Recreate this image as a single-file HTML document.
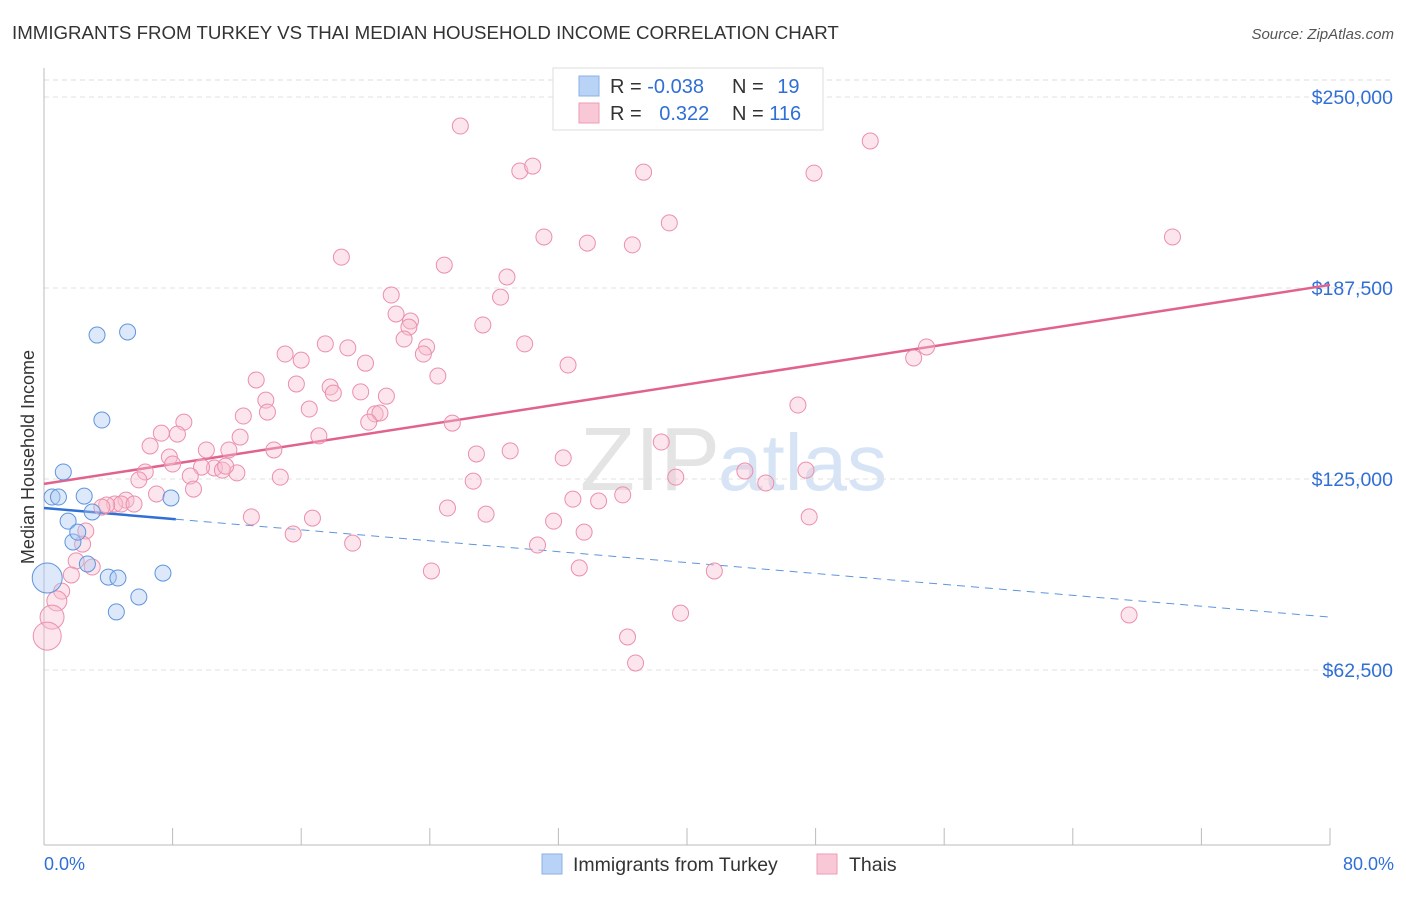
<!DOCTYPE html>
<html><head><meta charset="utf-8"><style>
body{margin:0;background:#fff;font-family:"Liberation Sans",sans-serif;}
svg text{font-family:"Liberation Sans",sans-serif;}
</style></head><body>
<svg id="chart" width="1406" height="892" xmlns="http://www.w3.org/2000/svg">
<text x="12" y="39" font-size="18.7" fill="#333">IMMIGRANTS FROM TURKEY VS THAI MEDIAN HOUSEHOLD INCOME CORRELATION CHART</text>
<text x="1394" y="39" font-size="15" fill="#555" font-style="italic" text-anchor="end">Source: ZipAtlas.com</text>
<text x="720" y="490" font-size="90" font-family="Liberation Serif" fill="#e4e4e4" text-anchor="end">ZIP</text>
<text x="718" y="490" font-size="80" fill="#d6e4f5">atlas</text>
<g id="grid"></g><g id="axes"></g><g id="lines"></g><g id="pts"></g>
<text transform="translate(34,457) rotate(-90)" font-size="18" fill="#333" text-anchor="middle">Median Household Income</text>
<g>
<rect x="553" y="68" width="270" height="62" fill="#fff" stroke="#ddd"/>
<rect x="579" y="76" width="20" height="20" fill="#b8d3f5" stroke="#8ab2e6"/>
<rect x="579" y="103" width="20" height="20" fill="#f8c8d6" stroke="#ee9db5"/>
<text x="610" y="93" font-size="20" fill="#333">R = <tspan fill="#2f6fd6">-0.038</tspan></text>
<text x="732" y="93" font-size="20" fill="#333">N = <tspan fill="#2f6fd6" dx="8">19</tspan></text>
<text x="610" y="120" font-size="20" fill="#333">R = <tspan fill="#2f6fd6" dx="12">0.322</tspan></text>
<text x="732" y="120" font-size="20" fill="#333">N = <tspan fill="#2f6fd6">116</tspan></text>
</g>
<g>
<rect x="542" y="854" width="20" height="20" fill="#b8d3f5" stroke="#8ab2e6"/>
<text x="573" y="871" font-size="19.5" fill="#333">Immigrants from Turkey</text>
<rect x="817" y="854" width="20" height="20" fill="#f8c8d6" stroke="#ee9db5"/>
<text x="849" y="871" font-size="19.5" fill="#333">Thais</text>
</g>
<text x="44" y="870" font-size="18" fill="#2f6fd6">0.0%</text>
<text x="1394" y="870" font-size="18" fill="#2f6fd6" text-anchor="end">80.0%</text>
</svg>
<script>
const yTicks=[62500,125000,187500,250000];
const yTickLabels=["$62,500","$125,000","$187,500","$250,000"];
const blueX=[0.2,0.5,0.9,1.2,1.5,1.8,2.1,2.5,2.7,3.0,3.3,3.6,4.0,4.6,4.5,5.2,5.9,7.4,7.9];
const blueY=[92600,119100,119100,127300,111200,104400,107600,119400,97200,114200,172100,144300,92900,92600,81500,173100,86400,94200,118800];
const pinkX=[25.9,51.4,29.6,30.4,37.3,47.9,38.9,31.1,33.8,36.6,70.2,18.5,24.9,28.8,28.4,21.6,21.9,22.8,22.7,27.3,22.4,23.8,23.6,17.5,18.9,29.9,15.0,16.0,20.0,32.6,54.1,54.9,13.2,24.5,15.7,17.8,18.0,19.7,21.3,13.8,16.5,13.9,12.4,20.6,20.9,20.2,25.4,46.9,8.7,8.3,7.3,6.6,12.2,17.1,14.3,10.1,11.5,38.4,7.8,8.0,6.3,5.9,12.0,10.6,11.1,9.8,11.3,26.9,29.0,32.3,43.6,47.4,39.3,44.9,14.7,9.1,9.3,7.0,26.7,36.0,32.9,34.5,25.1,27.5,31.7,47.6,12.9,16.7,33.6,15.5,19.2,30.7,5.1,4.4,4.8,3.9,5.6,3.6,2.6,2.4,2.0,3.0,1.7,1.1,0.8,0.5,0.2,24.1,33.3,41.7,39.6,36.3,36.8,67.5];
const pinkY=[240500,235600,225800,227400,225400,225100,208800,204200,202200,201600,204200,197600,195000,191100,184500,185200,179000,176700,174700,175400,170800,168200,165900,169200,167900,169200,165900,163900,162900,162300,164600,168200,157400,158700,156100,155100,153100,153500,152100,150800,147900,146900,145600,146300,146600,143600,143300,149200,143600,139700,140000,135800,138700,139100,134500,134500,134500,137100,132200,129900,127300,124700,127000,128600,127900,128900,129200,133200,134200,131900,127600,127900,125600,123700,125600,126000,121700,120100,124300,119800,118400,117800,115500,113500,111200,112600,112600,112200,107600,107000,104000,103400,118100,116800,116800,116500,116800,115800,108000,103700,98200,96200,93600,88300,85100,79800,73600,94900,95900,94900,81100,73300,64800,80500];
const pinkTrend=[123400,188500];
const blueTrend=[115500,79800];
const blueSolidEnd=8.2;
const NS="http://www.w3.org/2000/svg";
const xs=v=>44+v/80*1286;
const ys=v=>861-v/62500*191;
function mk(tag,attrs,parent){const e=document.createElementNS(NS,tag);for(const k in attrs)e.setAttribute(k,attrs[k]);document.getElementById(parent).appendChild(e);return e;}
let g=mk('line',{x1:44,x2:1394,y1:80,y2:80,stroke:'#ddd','stroke-dasharray':'5,4'},'grid');


yTicks.forEach((t,i)=>{
 const l=mk('line',{x1:44,x2:1394,y1:ys(t),y2:ys(t),stroke:'#e2e2e2','stroke-dasharray':'5,4'},'grid');
 
 
 const tx=mk('text',{x:1393,y:ys(t)+7,'font-size':19.5,fill:'#2f6fd6','text-anchor':'end'},'grid');
 tx.textContent=yTickLabels[i];
 
 
});
let a=mk('line',{x1:44,x2:44,y1:68,y2:845,stroke:'#bbb'},'axes');


a=mk('line',{x1:44,x2:1330,y1:845,y2:845,stroke:'#bbb'},'axes');


for(let i=0;i<=10;i++){const t=mk('line',{x1:xs(i*8),x2:xs(i*8),y1:828,y2:845,stroke:'#bbb'},'axes');
 
 }
function ptsDraw(X,Y,fill,stroke,name,big){X.forEach((x,i)=>{const r=big[i]||8;
 const c=mk('circle',{cx:xs(x),cy:ys(Y[i]),r:r,fill:fill,'fill-opacity':0.4,stroke:stroke,'stroke-width':1},'pts');
 
 });}
const pinkBig={};pinkX.forEach((x,i)=>{if(x<=0.2)pinkBig[i]=14;else if(x<=0.5)pinkBig[i]=12;else if(x<=0.8)pinkBig[i]=10;});
ptsDraw(pinkX,pinkY,'#f8bfd0','#ec8fac','thais-point',pinkBig);
ptsDraw(blueX,blueY,'#a9c9f2','#5d95de','turkey-point',{0:15});
let ln=mk('line',{x1:xs(0),y1:ys(pinkTrend[0]),x2:xs(80),y2:ys(pinkTrend[1]),stroke:'#e0628d','stroke-width':2.5},'lines');


const by=x=>blueTrend[0]+(blueTrend[1]-blueTrend[0])*x/80;
ln=mk('line',{x1:xs(0),y1:ys(blueTrend[0]),x2:xs(blueSolidEnd),y2:ys(by(blueSolidEnd)),stroke:'#2f6fd6','stroke-width':2.5},'lines');


ln=mk('line',{x1:xs(blueSolidEnd),y1:ys(by(blueSolidEnd)),x2:xs(80),y2:ys(blueTrend[1]),stroke:'#5d95de','stroke-width':1,'stroke-dasharray':'8,6'},'lines');


</script>
</body></html>
